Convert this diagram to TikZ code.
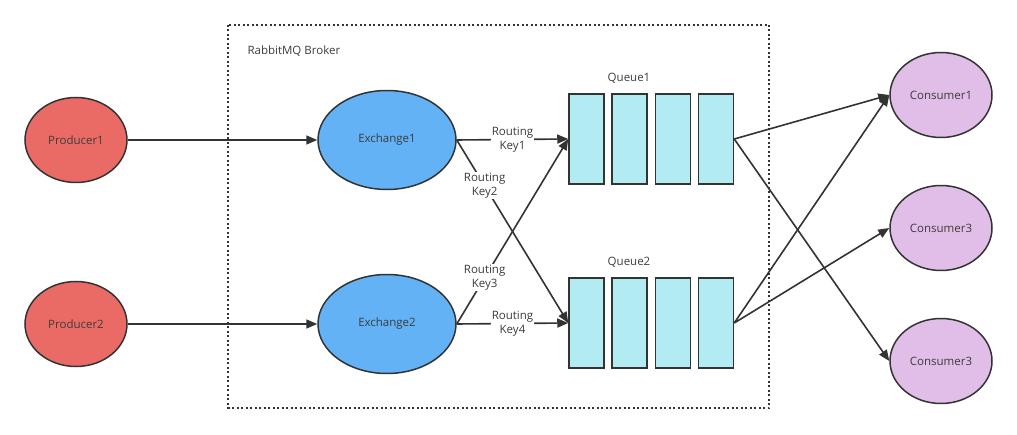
\documentclass[tikz,border=0pt]{standalone}
\usepackage{fontspec}
\setmainfont{Open Sans}
\usetikzlibrary{shapes.geometric,arrows.meta}
\definecolor{linec}{HTML}{333333}
\definecolor{textc}{HTML}{3C3C3C}
\definecolor{prodc}{HTML}{EA6B66}
\definecolor{exc}{HTML}{62B2F5}
\definecolor{queuec}{HTML}{B2EBF2}
\definecolor{consc}{HTML}{E1BEE7}
\tikzset{
  oval/.style={ellipse, draw=linec, line width=1.5pt, text=textc, minimum width=102pt, minimum height=85pt, font=\fontsize{11.5}{13}\selectfont},
  slot/.style={rectangle, draw=linec, line width=1.5pt, fill=queuec, minimum width=35pt, minimum height=90pt, inner sep=0pt},
  arr/.style={draw=linec, line width=1.6pt, -{Triangle[length=11pt,width=9pt]}},
  keylabel/.style={fill=white, text=textc, align=center, inner sep=0.5pt, font=\fontsize{11.5}{14.5}\selectfont},
  plainlabel/.style={text=textc, font=\fontsize{11.5}{13}\selectfont}
}
\begin{document}
\begin{tikzpicture}[x=1pt,y=-1pt]
\useasboundingbox (0,0) rectangle (1017,435);
% Broker
\draw[linec, line width=1.5pt, dash pattern=on 2pt off 2.5pt] (228,25) rectangle (769,408);
\node[plainlabel, anchor=west] (broker) at (244,51) {RabbitMQ Broker};

% Producers and exchanges
\node[oval, fill=prodc] (p1) at (76,140) {Producer1};
\node[oval, fill=prodc] (p2) at (76,324) {Producer2};
\node[oval, fill=exc, minimum width=138pt, minimum height=99pt] (ex1) at (387,140) {Exchange1};
\node[oval, fill=exc, minimum width=138pt, minimum height=99pt] (ex2) at (387,324) {Exchange2};

% Queues
\node[slot] (q1a) at (586.5,139) {};
\node[slot] (q1b) at (629.5,139) {};
\node[slot] (q1c) at (673,139) {};
\node[slot] (q1d) at (716,139) {};
\node[plainlabel] (q1) at (629,78) {Queue1};
\node[slot] (q2a) at (586.5,323) {};
\node[slot] (q2b) at (629.5,323) {};
\node[slot] (q2c) at (673,323) {};
\node[slot] (q2d) at (716,323) {};
\node[plainlabel] (q2) at (629,262) {Queue2};

% Consumers
\node[oval, fill=consc] (c1) at (941,95) {Consumer1};
\node[oval, fill=consc] (c2) at (941,228) {Consumer3};
\node[oval, fill=consc] (c3) at (941,361) {Consumer3};

% Arrows
\draw[arr] (p1) -- (ex1);
\draw[arr] (p2) -- (ex2);
\draw[arr] (ex1.east) -- (q2a.west) node[keylabel, pos=0.25] {Routing\\Key2};
\draw[arr] (ex2.east) -- (q1a.west) node[keylabel, pos=0.25] {Routing\\Key3};
\draw[arr] (ex1.east) -- (q1a.west) node[keylabel, midway] {Routing\\Key1};
\draw[arr] (ex2.east) -- (q2a.west) node[keylabel, midway] {Routing\\Key4};
\draw[arr] (q1d.east) -- (c1.west);
\draw[arr] (q1d.east) -- (c3.west);
\draw[arr] (q2d.east) -- (c1.west);
\draw[arr] (q2d.east) -- (c2.west);

\end{tikzpicture}
\end{document}
